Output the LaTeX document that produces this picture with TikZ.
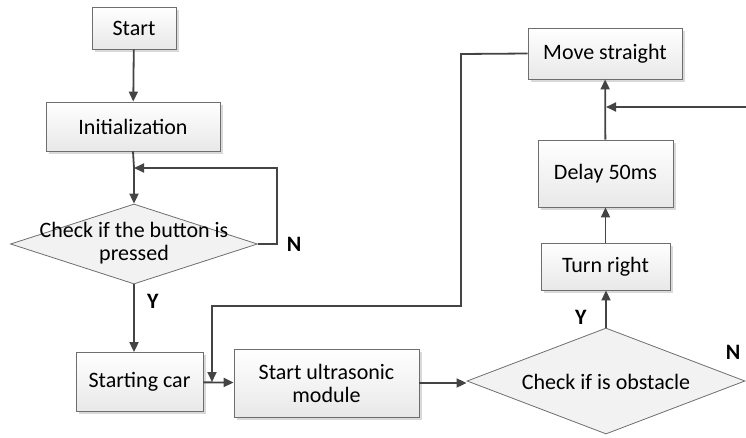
\documentclass[tikz,border=0pt]{standalone}
\usepackage{fontspec}
\setmainfont{Carlito}
\usetikzlibrary{shapes.geometric,shadows,arrows.meta}
\definecolor{linegray}{HTML}{444444}
\definecolor{boxline}{HTML}{6E6E6E}

\begin{document}
\begin{tikzpicture}[x=1pt,y=-1pt,
		font=\fontsize{22}{26}\selectfont,
		>={Triangle[length=10pt,width=9pt]},
		box/.style={draw=boxline,line width=0.8pt,top color=white,bottom color=black!9,
			drop shadow={shadow xshift=2.5pt,shadow yshift=-2.5pt,fill=black!25,opacity=0.6},
			inner sep=0pt,align=center},
		dec/.style={draw=boxline,line width=0.8pt,diamond,fill=black!5,inner sep=0pt},
		flow/.style={draw=linegray,line width=1.8pt}]
	\useasboundingbox (0,0) rectangle (746,437);
	
	\node[box,minimum width=84pt,minimum height=42pt] (start) at (134,28) {Start};
	\node[box,minimum width=174pt,minimum height=49pt] (init) at (133,126.5) {Initialization};
	\node[dec,minimum width=247pt,minimum height=80pt] (d1) at (134,244) {};
	\node[align=center] (d1t) at (134,243) {Check if the button is\\[-3pt]pressed};
	\node[box,minimum width=127pt,minimum height=59pt] (car) at (139.5,382) {Starting car};
	\node[box,minimum width=185pt,minimum height=68pt] (sonic) at (326.5,383) {Start ultrasonic\\[-3pt]module};
	\node[dec,minimum width=278pt,minimum height=106pt] (d2) at (606,381) {};
	\node (d2t) at (606,382) {Check if is obstacle};
	\node[box,minimum width=129pt,minimum height=47pt] (turn) at (605.5,266.5) {Turn right};
	\node[box,minimum width=135pt,minimum height=67pt] (delay) at (605.5,173.5) {Delay 50ms};
	\node[box,minimum width=154pt,minimum height=51pt] (move) at (605,53.5) {Move straight};
	
	\node (n1) at (294,244) {\textbf{N}};
	\node (y1) at (153,301) {\textbf{Y}};
	\node (y2) at (581,317) {\textbf{Y}};
	\node (n2) at (733,352) {\textbf{N}};
	
	\coordinate (j1) at (134,168);
	\coordinate (j2) at (212,382);
	\coordinate (j3) at (606,107);
	\coordinate (far) at (746,107);
	
	\path[flow,->] (start) -- (init);
	\path[flow] (init.south) -- (j1);
	\path[flow,->] (j1) -- (d1.north);
	\path[flow,->] (d1.east) -- (277,244) -- (277,168) -- (j1);
	\path[flow,->] (d1.south) -- (d1.south |- car.north);
	\path[flow,->] (car) -- (sonic);
	\path[flow,->] (move.west) -- (461,54) -- (461,306) -- (212,306) -- (j2);
	\path[flow,->] (sonic.east) -- (d2.west |- sonic.east);
	\path[flow,->] (d2.north) -- (turn.south -| d2.north);
	\path[flow,->] (turn) -- (delay);
	\path[flow,->] (delay) -- (move);
	\path[flow,->] (far) -- (j3);
\end{tikzpicture}
\end{document}
